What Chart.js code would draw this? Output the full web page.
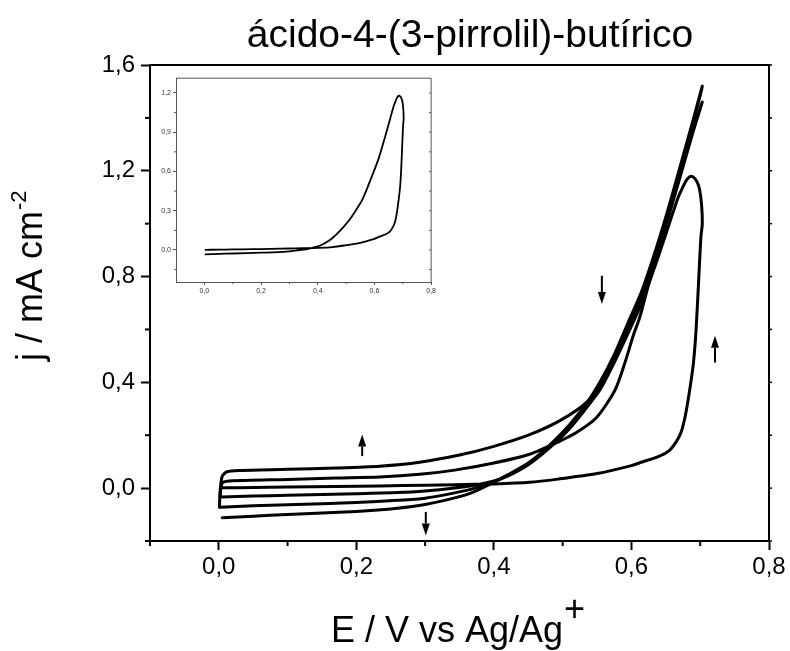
<!DOCTYPE html>
<html>
<head>
<meta charset="utf-8">
<style>
html,body{margin:0;padding:0;background:#fff;overflow:hidden}
#wrap{position:relative;width:790px;height:651px}
#main{position:absolute;left:0;top:0}
#inset{position:absolute;left:154px;top:72px}
</style>
<script src="https://cdn.jsdelivr.net/npm/chart.js@4/dist/chart.umd.min.js"></script>
</head>
<body>
<div id="wrap">
<canvas id="main" width="790" height="651"></canvas>
<canvas id="inset" width="284" height="224"></canvas>
</div>
<script>
// ---------- DATA ----------
const titleText = "ácido-4-(3-pirrolil)-butírico";
const xLabelText = "E / V vs Ag/Ag";
const xLabelSup = "+";
const yLabelText = "j / mA cm";
const yLabelSup = "-2";

const xMajorTicks = [0, 0.2, 0.4, 0.6, 0.8];
const xMinorTicks = [-0.1, 0.1, 0.3, 0.5, 0.7];
const yMajorTicks = [0, 0.4, 0.8, 1.2, 1.6];
const yMinorTicks = [-0.2, 0.2, 0.6, 1.0, 1.4];

const insetXMajor = [0, 0.2, 0.4, 0.6, 0.8];
const insetXMinor = [0.1, 0.3, 0.5, 0.7];
const insetYMajor = [0, 0.3, 0.6, 0.9, 1.2];
const insetYMinor = [-0.15, 0.15, 0.45, 0.75, 1.05];

// cycle 1 (forward then reverse)
const cycle1E = [0.004,0.05,0.10,0.17,0.234,0.30,0.343,0.40,0.452,0.493,0.55,0.60,0.612,0.64,0.655,0.665,0.672,0.678,0.684,0.690,0.694,0.698,0.701,0.703,
  0.702,0.699,0.695,0.690,0.685,0.680,0.675,0.668,0.655,0.637,0.615,0.595,0.575,0.555,0.535,0.51,0.48,0.45,0.42,0.40,0.37,0.343,0.30,0.26,0.20,0.10,0.05,0.004];
const cycle1J = [0.001,0.002,0.004,0.006,0.008,0.011,0.013,0.016,0.022,0.034,0.055,0.085,0.096,0.12,0.142,0.175,0.21,0.27,0.36,0.47,0.60,0.80,0.95,1.00,
  1.07,1.13,1.16,1.176,1.178,1.165,1.14,1.10,1.0,0.86,0.70,0.585,0.475,0.375,0.305,0.225,0.15,0.088,0.045,0.027,0.01,0.0,-0.011,-0.017,-0.021,-0.027,-0.030,-0.034];
// cycle 2
const cycle2E = [0.002,0.003,0.006,0.02,0.10,0.17,0.234,0.292,0.343,0.40,0.452,0.496,0.52,0.549,0.576,0.59,0.603,0.612,0.63,0.65,0.67,0.69,0.703,
  0.69,0.675,0.655,0.637,0.615,0.595,0.575,0.555,0.535,0.51,0.48,0.45,0.42,0.40,0.37,0.343,0.30,0.26,0.20,0.10,0.05,0.002];
const cycle2J = [-0.034,0.0,0.022,0.028,0.033,0.038,0.042,0.052,0.068,0.095,0.128,0.178,0.21,0.266,0.37,0.47,0.58,0.645,0.82,1.0,1.19,1.36,1.46,
  1.35,1.215,1.035,0.885,0.715,0.60,0.485,0.385,0.315,0.235,0.157,0.092,0.048,0.024,-0.002,-0.018,-0.038,-0.046,-0.054,-0.063,-0.067,-0.072];
// cycle 3
const cycle3E = [0.001,0.002,0.005,0.012,0.03,0.10,0.17,0.234,0.292,0.35,0.40,0.45,0.496,0.535,0.555,0.575,0.595,0.615,0.637,0.655,0.675,0.69,0.703,
  0.69,0.675,0.655,0.637,0.615,0.595,0.575,0.555,0.535,0.51,0.48,0.45,0.42,0.40,0.37,0.343,0.30,0.26,0.20,0.10,0.05,0.005];
const cycle3J = [-0.072,-0.01,0.045,0.062,0.067,0.071,0.076,0.083,0.098,0.125,0.158,0.20,0.255,0.325,0.405,0.505,0.625,0.745,0.915,1.07,1.255,1.395,1.52,
  1.385,1.245,1.055,0.90,0.73,0.61,0.49,0.39,0.32,0.24,0.16,0.095,0.05,0.022,-0.015,-0.037,-0.062,-0.076,-0.088,-0.10,-0.106,-0.112];

// arrows: E position, j tail, j head
const arrowE = [0.2085, 0.301, 0.557, 0.7215];
const arrowFrom = [0.121, -0.09, 0.803, 0.475];
const arrowTo = [0.203, -0.179, 0.696, 0.576];

// ---------- HELPERS ----------
const FONT = '"Liberation Sans", Arial, Helvetica, sans-serif';
const pts = (E, J) => E.map((e, i) => ({x: e, y: J[i]}));
const fmt = v => v.toFixed(1).replace('.', ',');

function lineDs(E, J, w) {
  return {data: pts(E, J), showLine: true, borderColor: '#000', borderWidth: w,
    pointRadius: 0, tension: 0.25, fill: false, borderJoinStyle: 'round', borderCapStyle: 'round'};
}

function drawTicks(ctx, scale, vals, len, side, a) {
  vals.forEach(v => {
    ctx.beginPath();
    if (side === 'bottom' || side === 'top') {
      const px = scale.getPixelForValue(v);
      const y0 = side === 'bottom' ? a.bottom : a.top;
      const dir = side === 'bottom' ? 1 : -1;
      ctx.moveTo(px, y0); ctx.lineTo(px, y0 + dir * len);
    } else {
      const py = scale.getPixelForValue(v);
      const x0 = side === 'left' ? a.left : a.right;
      const dir = side === 'left' ? -1 : 1;
      ctx.moveTo(x0, py); ctx.lineTo(x0 + dir * len, py);
    }
    ctx.stroke();
  });
}

// ---------- MAIN CHART ----------
const mainDeco = {
  id: 'mainDeco',
  afterDraw(chart) {
    const {ctx, chartArea: a, scales: {x, y}} = chart;
    ctx.save();
    ctx.strokeStyle = '#000'; ctx.fillStyle = '#000'; ctx.lineWidth = 2; ctx.lineCap = 'square';
    // top and right frame
    ctx.beginPath(); ctx.moveTo(a.left, a.top); ctx.lineTo(a.right, a.top); ctx.lineTo(a.right, a.bottom); ctx.stroke();
    ctx.lineCap = 'butt';
    drawTicks(ctx, x, xMinorTicks, 5, 'bottom', a);
    drawTicks(ctx, y, yMinorTicks, 5, 'left', a);
    ctx.lineWidth = 1.5;
    drawTicks(ctx, y, yMajorTicks, 3, 'right', a);
    drawTicks(ctx, y, yMinorTicks, 3, 'right', a);
    // arrows
    arrowE.forEach((e, i) => {
      const px = x.getPixelForValue(e);
      const p0 = y.getPixelForValue(arrowFrom[i]);
      const p1 = y.getPixelForValue(arrowTo[i]);
      const dir = p1 < p0 ? -1 : 1;
      const headLen = 12, headW = 4;
      ctx.lineWidth = 2;
      ctx.beginPath(); ctx.moveTo(px, p0); ctx.lineTo(px, p1 - dir * headLen); ctx.stroke();
      ctx.beginPath(); ctx.moveTo(px, p1); ctx.lineTo(px - headW, p1 - dir * headLen); ctx.lineTo(px + headW, p1 - dir * headLen); ctx.closePath(); ctx.fill();
    });
    // title
    ctx.textBaseline = 'alphabetic';
    ctx.font = '39px ' + FONT;
    ctx.textAlign = 'center';
    ctx.fillText(titleText, 470, 47);
    // x label
    ctx.textAlign = 'left';
    ctx.font = '36px ' + FONT;
    const xw = ctx.measureText(xLabelText).width;
    const xs = 331;
    ctx.fillText(xLabelText, xs, 642);
    ctx.font = '36px ' + FONT;
    ctx.fillText(xLabelSup, xs + xw + 1, 621);
    // y label
    ctx.save();
    ctx.translate(42, 361);
    ctx.rotate(-Math.PI / 2);
    ctx.font = '36px ' + FONT;
    const yw = ctx.measureText(yLabelText).width;
    ctx.fillText(yLabelText, 0, 0);
    ctx.font = '22px ' + FONT;
    ctx.fillText(yLabelSup, yw + 1, -16);
    ctx.restore();
    ctx.restore();
  }
};

new Chart(document.getElementById('main'), {
  type: 'scatter',
  data: {datasets: [
    lineDs(cycle1E, cycle1J, 3),
    lineDs(cycle2E, cycle2J, 3),
    lineDs(cycle3E, cycle3J, 3)
  ]},
  options: {
    responsive: false, animation: false, devicePixelRatio: 1,
    layout: {padding: {top: 65, right: 21, left: 0, bottom: 0}},
    plugins: {legend: {display: false}, tooltip: {enabled: false}, title: {display: false}},
    scales: {
      x: {
        type: 'linear', min: -0.1, max: 0.8,
        afterFit: s => { s.height = 110; },
        afterBuildTicks: s => { s.ticks = xMajorTicks.map(v => ({value: v})); },
        ticks: {callback: v => fmt(v), font: {family: FONT, size: 24}, color: '#000', padding: 3, maxRotation: 0, autoSkip: false},
        grid: {drawOnChartArea: false, drawTicks: true, tickLength: 9, tickWidth: 2, tickColor: '#000'},
        border: {display: true, color: '#000', width: 2}
      },
      y: {
        type: 'linear', min: -0.2, max: 1.6,
        afterFit: s => { s.width = 150; },
        afterBuildTicks: s => { s.ticks = yMajorTicks.map(v => ({value: v})); },
        ticks: {callback: v => fmt(v), font: {family: FONT, size: 24}, color: '#000', padding: 6, autoSkip: false},
        grid: {drawOnChartArea: false, drawTicks: true, tickLength: 9, tickWidth: 2, tickColor: '#000'},
        border: {display: true, color: '#000', width: 2}
      }
    }
  },
  plugins: [mainDeco]
});

// ---------- INSET CHART ----------
const insetDeco = {
  id: 'insetDeco',
  afterDraw(chart) {
    const {ctx, chartArea: a, scales: {x, y}} = chart;
    ctx.save();
    ctx.strokeStyle = '#555'; ctx.lineWidth = 1;
    ctx.beginPath(); ctx.moveTo(a.left, a.top); ctx.lineTo(a.right, a.top); ctx.lineTo(a.right, a.bottom); ctx.stroke();
    drawTicks(ctx, x, insetXMinor, 2, 'bottom', a);
    drawTicks(ctx, y, insetYMinor, 2, 'left', a);
    drawTicks(ctx, y, insetYMajor, -2, 'right', a);
    drawTicks(ctx, y, insetYMinor, -2, 'right', a);
    ctx.restore();
  }
};

new Chart(document.getElementById('inset'), {
  type: 'scatter',
  data: {datasets: [lineDs(cycle1E, cycle1J, 1.8)]},
  options: {
    responsive: false, animation: false, devicePixelRatio: 1,
    layout: {padding: {top: 3, right: 3, left: 0, bottom: 0}},
    plugins: {legend: {display: false}, tooltip: {enabled: false}},
    scales: {
      x: {
        type: 'linear', min: -0.1, max: 0.8,
        afterFit: s => { s.height = 14; },
        afterBuildTicks: s => { s.ticks = insetXMajor.map(v => ({value: v})); },
        ticks: {callback: v => fmt(v), font: {family: FONT, size: 7}, color: '#333', padding: 2, maxRotation: 0, autoSkip: false},
        grid: {drawOnChartArea: false, tickLength: 3, tickWidth: 1, tickColor: '#555'},
        border: {color: '#555', width: 1}
      },
      y: {
        type: 'linear', min: -0.245, max: 1.313,
        afterFit: s => { s.width = 22; },
        afterBuildTicks: s => { s.ticks = insetYMajor.map(v => ({value: v})); },
        ticks: {callback: v => fmt(v), font: {family: FONT, size: 7}, color: '#333', padding: 2, autoSkip: false},
        grid: {drawOnChartArea: false, tickLength: 3, tickWidth: 1, tickColor: '#555'},
        border: {color: '#555', width: 1}
      }
    }
  },
  plugins: [insetDeco]
});
</script>
</body>
</html>
